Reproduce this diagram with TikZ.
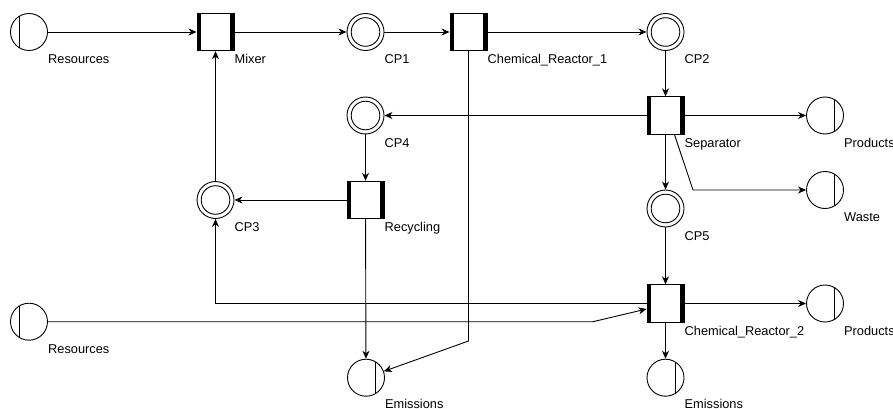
\documentclass[tikz,border=0pt]{standalone}
\usepackage{fontspec}
\newfontfamily\lblfont{Liberation Sans}
\usetikzlibrary{arrows.meta,calc,positioning}
\tikzset{
    net diagram/.style = {>={Stealth[length=8pt, width=7pt, inset=2.5pt]},
                          x=1pt, y=-1pt},
    place/.style       = {draw, line width=0.9pt, fill=white, circle,
                          minimum size=37pt, inner sep=0pt},
    cplace/.style      = {place,
                          path picture={\draw[line width=0.9pt]
                            (path picture bounding box.center)
                            circle[radius=14.3pt];}},
    source/.style      = {place,
                          path picture={\draw[line width=0.9pt]
                            ([xshift=-9.5pt]path picture bounding box.north)
                         -- ([xshift=-9.5pt]path picture bounding box.south);}},
    sink/.style        = {place,
                          path picture={\draw[line width=0.9pt]
                            ([xshift=9.5pt]path picture bounding box.north)
                         -- ([xshift=9.5pt]path picture bounding box.south);}},
    trans/.style       = {draw, line width=0.9pt, fill=white,
                          minimum width=37pt, minimum height=37.5pt,
                          inner sep=0pt,
                          path picture={
                            \fill[black] (path picture bounding box.north west)
                              rectangle ([xshift=3.8pt]path picture bounding box.south west);
                            \fill[black] ([xshift=-3.8pt]path picture bounding box.north east)
                              rectangle (path picture bounding box.south east);}},
    flow/.style        = {->, line width=0.9pt},
    lbl/.style         = {anchor=base west, inner sep=0pt,
                          font=\lblfont\fontsize{12.8}{14}\selectfont}
}

\begin{document}
\begin{tikzpicture}[net diagram]
\useasboundingbox (0,0) rectangle (893,409);

% ================= Main line (top row) =================
\node[source] (res1)  at (29, 32)     {};
\node[trans]  (mixer) at (215.5, 32)  {};
\node[cplace] (cp1)   at (365.5, 32)  {};
\node[trans]  (cr1)   at (468.5, 32)  {};
\node[cplace] (cp2)   at (665.5, 32)  {};

\node[lbl] (res1-l)  at ([yshift=-31.7pt]res1.east)  {Resources};
\node[lbl] (mixer-l) at ([yshift=-31.7pt]mixer.east) {Mixer};
\node[lbl] (cp1-l)   at ([yshift=-31.7pt]cp1.east)   {CP1};
\node[lbl] (cr1-l)   at ([yshift=-31.7pt]cr1.east)   {Chemical\_Reactor\_1};
\node[lbl] (cp2-l)   at ([yshift=-31.7pt]cp2.east)   {CP2};

\draw[flow] (res1) -- (mixer);
\draw[flow] (mixer) -- (cp1);
\draw[flow] (cp1) -- (cr1);
\draw[flow] (cr1) -- (cp2);

% ================= Separation and recycling =================
\node[trans]  (sep)   at (665.5, 115.5) {};
\node[sink]   (prod1) at (825, 115.5)   {};
\node[sink]   (waste) at (825, 190)     {};
\node[cplace] (cp4)   at (365.5, 115.5) {};
\node[trans]  (recyc) at (365.5, 200)   {};
\node[cplace] (cp3)   at (215.5, 200)   {};
\node[cplace] (cp5)   at (665.5, 208.5) {};

\node[lbl] (sep-l)   at ([yshift=-31.7pt]sep.east)   {Separator};
\node[lbl] (prod1-l) at ([yshift=-31.7pt]prod1.east) {Products};
\node[lbl] (waste-l) at ([yshift=-31.7pt]waste.east) {Waste};
\node[lbl] (cp4-l)   at ([yshift=-31.7pt]cp4.east)   {CP4};
\node[lbl] (recyc-l) at ([yshift=-31.7pt]recyc.east) {Recycling};
\node[lbl] (cp3-l)   at ([yshift=-31.7pt]cp3.east)   {CP3};
\node[lbl] (cp5-l)   at ([yshift=-31.7pt]cp5.east)   {CP5};

\coordinate (wknee) at (693, 190);

\draw[flow] (cp2) -- (sep);
\draw[flow] (sep) -- (prod1);
\draw[flow] ([xshift=9pt]sep.south) -- (wknee) -- (waste);
\draw[flow] (sep) -- (cp4);
\draw[flow] (sep) -- (cp5);
\draw[flow] (cp4) -- (recyc);
\draw[flow] (recyc) -- (cp3);
\draw[flow] (cp3) -- (mixer);

% ================= Second reactor (bottom rows) =================
\node[trans]  (cr2)   at (665.5, 303.5) {};
\node[sink]   (prod2) at (825, 303.5)   {};
\node[source] (res2)  at (29, 321.7)    {};
\node[sink]   (em1)   at (366, 377.7)   {};
\node[sink]   (em2)   at (665.5, 377.7) {};

\node[lbl] (cr2-l)   at ([yshift=-31.7pt]cr2.east)   {Chemical\_Reactor\_2};
\node[lbl] (prod2-l) at ([yshift=-31.7pt]prod2.east) {Products};
\node[lbl] (res2-l)  at ([yshift=-31.7pt]res2.east)  {Resources};
% emission labels sit on the lower edge
\node[lbl] (em1-l)   at ([yshift=-30.3pt]em1.east)   {Emissions};
\node[lbl] (em2-l)   at ([yshift=-30.3pt]em2.east)   {Emissions};

\coordinate (rknee) at (593, 321.7);
\coordinate (eknee) at (468.5, 341);

\draw[flow] (cp5) -- (cr2);
\draw[flow] (cr2) -- (prod2);
\draw[flow] (cr2) -- (em2);
\draw[flow] (cr2.west) -- (cr2.west -| cp3) -- (cp3);
\draw[flow] (res2) -- (rknee) -- ([yshift=-5.5pt]cr2.west);
\draw[flow] (recyc) -- (em1);
\draw[flow] (cr1.south) -- (eknee) -- (em1);

\end{tikzpicture}
\end{document}
